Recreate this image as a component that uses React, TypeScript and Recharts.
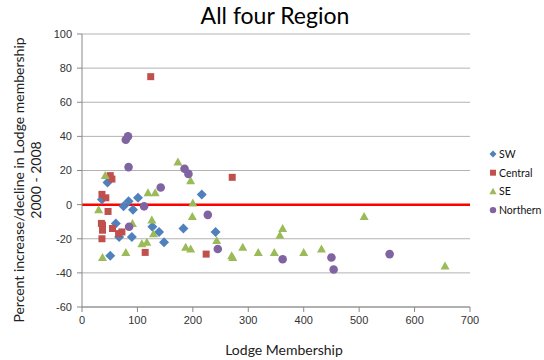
import React from "react";
import {
  ScatterChart,
  Scatter,
  XAxis,
  YAxis,
  CartesianGrid,
  ReferenceLine,
  Legend,
  Label
} from "recharts";

// lodge membership (x) and percent change 2000-2008 (y) per region
const swMembership = [36, 46, 51, 61, 67, 75, 84, 90, 92, 101, 127, 139, 148, 183, 216, 241];
const swChange = [3, 13, -30, -11, -19, -1, 2, -19, -3, 4, -13, -16, -22, -14, 6, -16];

const centralMembership = [35, 36, 36, 37, 37, 43, 47, 51, 54, 55, 66, 72, 114, 124, 224, 271];
const centralChange = [-11, 6, -20, -12, -15, 4, -4, 17, 15, -14, -17, -16, -28, 75, -29, 16];

const seMembership = [30, 37, 42, 79, 91, 108, 117, 119, 126, 129, 132, 173, 187, 196, 196, 199, 200, 243, 270, 272, 290, 318, 347, 357, 362, 400, 432, 509, 655];
const seChange = [-3, -31, 17, -28, -11, -23, -22, 7, -9, -17, 7, 25, -25, -26, 14, -7, 1, -21, -30, -31, -25, -28, -28, -18, -14, -28, -26, -7, -36];

const northernMembership = [79, 83, 84, 85, 112, 142, 185, 192, 227, 245, 362, 450, 454, 555];
const northernChange = [38, 40, 22, -13, -1, 10, 21, 18, -6, -26, -32, -31, -38, -29];

const xTicks = [0, 100, 200, 300, 400, 500, 600, 700];
const yTicks = [-60, -40, -20, 0, 20, 40, 60, 80, 100];

const toPoints = (xs: number[], ys: number[]) =>
  xs.map((x, i) => ({ members: x, change: ys[i] }));

const colors = {
  SW: "#4f81bd",
  Central: "#c0504d",
  SE: "#9bbb59",
  Northern: "#8064a2"
};

const Diamond = (p: any) => {
  const { cx, cy, fill } = p;
  return <path d={`M${cx},${cy - 5}L${cx + 5},${cy}L${cx},${cy + 5}L${cx - 5},${cy}Z`} fill={fill} />;
};
const Square = (p: any) => {
  const { cx, cy, fill } = p;
  return <rect x={cx - 3.5} y={cy - 3.5} width={7} height={7} fill={fill} />;
};
const Triangle = (p: any) => {
  const { cx, cy, fill } = p;
  return <path d={`M${cx},${cy - 4.5}L${cx + 4.5},${cy + 3.5}L${cx - 4.5},${cy + 3.5}Z`} fill={fill} />;
};
const Circle = (p: any) => {
  const { cx, cy, fill } = p;
  return <circle cx={cx} cy={cy} r={4.3} fill={fill} />;
};

const legendItems = [
  { name: "SW", shape: Diamond, size: 0.7 },
  { name: "Central", shape: Square, size: 0.85 },
  { name: "SE", shape: Triangle, size: 0.8 },
  { name: "Northern", shape: Circle, size: 0.75 }
];

function LegendBox() {
  return (
    <svg width={58} height={80}>
      {legendItems.map((it, i) => {
        const y = 8 + i * 18.7;
        const Shape = it.shape;
        return (
          <g key={it.name}>
            <g transform={`translate(4 ${y}) scale(${it.size})`}>
              <Shape cx={0} cy={0} fill={(colors as any)[it.name]} />
            </g>
            <text x={10} y={y + 3.8} fontSize={10.5} fontFamily="Lato" fill="#111">
              {it.name}
            </text>
          </g>
        );
      })}
    </svg>
  );
}

const tickStyle = { fontSize: 11, fontFamily: "Liberation Sans", fill: "#333" };

export default function App() {
  return (
    <div style={{ position: "absolute", left: 0, top: 0, width: 544, height: 360, background: "#fff" }}>
      <div
        style={{
          position: "absolute",
          left: 0,
          top: 1,
          width: 550,
          textAlign: "center",
          fontFamily: "Lato",
          fontSize: 23,
          color: "#000"
        }}
      >
        All four Region
      </div>
      <ScatterChart width={544} height={360} margin={{ top: 34, right: 74, bottom: 0, left: 0 }}>
        <CartesianGrid vertical={false} stroke="#b3b3b3" />
        <XAxis
          type="number"
          dataKey="members"
          domain={[0, 700]}
          ticks={xTicks}
          height={53}
          tickSize={5}
          tickMargin={4}
          stroke="#888"
          tick={tickStyle}
        >
          <Label
            content={() => (
              <text x={284} y={355} textAnchor="middle" fontSize={14} fontFamily="Lato" fill="#222">
                Lodge Membership
              </text>
            )}
          />
        </XAxis>
        <YAxis
          type="number"
          dataKey="change"
          domain={[-60, 100]}
          ticks={yTicks}
          width={82}
          tickSize={5}
          tickMargin={5}
          stroke="#888"
          tick={tickStyle}
        >
          <Label
            content={() => (
              <g>
                <text x={18} y={180} transform="rotate(-90 18 180)" textAnchor="middle" dominantBaseline="central" fontSize={14} fontFamily="Lato" fill="#222">
                  Percent increase/decline in Lodge membership
                </text>
                <text x={35} y={180} transform="rotate(-90 35 180)" textAnchor="middle" dominantBaseline="central" fontSize={14} fontFamily="Lato" fill="#222">
                  2000 - 2008
                </text>
              </g>
            )}
          />
        </YAxis>
        <ReferenceLine y={0} stroke="#ff0000" strokeWidth={2.5} />
        <Scatter name="SW" data={toPoints(swMembership, swChange)} fill={colors.SW} shape={Diamond} isAnimationActive={false} />
        <Scatter name="Central" data={toPoints(centralMembership, centralChange)} fill={colors.Central} shape={Square} isAnimationActive={false} />
        <Scatter name="SE" data={toPoints(seMembership, seChange)} fill={colors.SE} shape={Triangle} isAnimationActive={false} />
        <Scatter name="Northern" data={toPoints(northernMembership, northernChange)} fill={colors.Northern} shape={Circle} isAnimationActive={false} />
        <Legend
          layout="vertical"
          align="center"
          verticalAlign="middle"
          wrapperStyle={{ left: 489, top: 146, width: 58 }}
          content={() => <LegendBox />}
        />
      </ScatterChart>
    </div>
  );
}
